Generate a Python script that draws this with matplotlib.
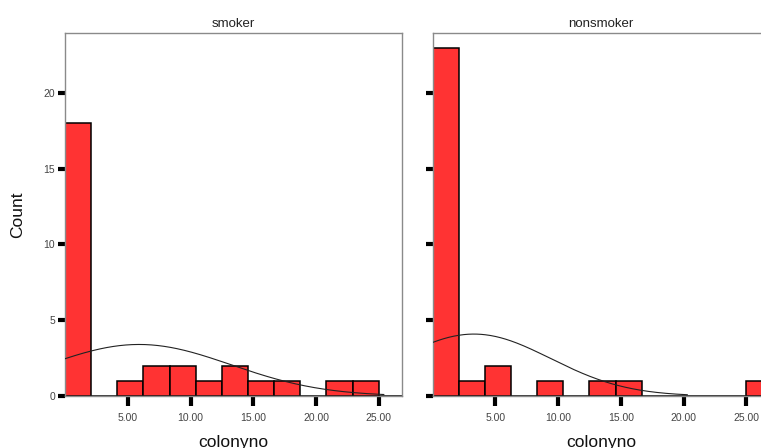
import numpy as np
import matplotlib
matplotlib.use("Agg")
import matplotlib.pyplot as plt

plt.rcParams['font.family'] = ['Liberation Sans', 'DejaVu Sans']

panels = ["smoker", "nonsmoker"]
bin_edges = list(np.linspace(0, 27.0833, 14))  # 13 bins of width 25/12
smoker_counts = [18, 0, 1, 2, 2, 1, 2, 1, 1, 0, 1, 1, 0]
nonsmoker_counts = [23, 1, 2, 0, 1, 0, 1, 1, 0, 0, 0, 0, 1]
# normal curve parameters (mean, sd, n) and drawn range
smoker_norm = (5.9, 7.33, 30)
nonsmoker_norm = (3.3, 6.1, 30)
smoker_curve_range = (0, 25.4)
nonsmoker_curve_range = (0, 20.3)
xticks = [5, 10, 15, 20, 25]
xtick_labels = ["5.00", "10.00", "15.00", "20.00", "25.00"]
yticks = [0, 5, 10, 15, 20]

W, H = 761, 448
fig = plt.figure(figsize=(W / 100, H / 100), dpi=100)

ax_w = 337 / W
ax_b = (H - 396) / H
ax_h = 363 / H
axes = [fig.add_axes([65 / W, ax_b, ax_w, ax_h]),
        fig.add_axes([432.5 / W, ax_b, ax_w, ax_h])]

data = [(smoker_counts, smoker_norm, smoker_curve_range),
        (nonsmoker_counts, nonsmoker_norm, nonsmoker_curve_range)]

for i, (ax, title, (counts, norm, crange)) in enumerate(zip(axes, panels, data)):
    edges = np.array(bin_edges)
    widths = np.diff(edges)
    ax.bar(edges[:-1], counts, width=widths, align='edge', color='#ff3333',
           edgecolor='black', linewidth=1.1, zorder=2)
    mu, sd, n = norm
    bw = widths[0]
    xs = np.linspace(crange[0], crange[1], 300)
    ys = n * bw / (sd * np.sqrt(2 * np.pi)) * np.exp(-(xs - mu) ** 2 / (2 * sd ** 2))
    ax.plot(xs, ys, color='#222222', linewidth=0.8, zorder=3)
    ax.set_xlim(0, 26.85)
    ax.set_ylim(0, 23.96)
    ax.set_xticks(xticks)
    ax.set_xticklabels(xtick_labels)
    ax.set_yticks(yticks)
    if i == 1:
        ax.set_yticklabels([])
    for s in ax.spines.values():
        s.set_color('#8a8a8a')
        s.set_linewidth(1.0)
    ax.tick_params(axis='x', direction='out', length=7, width=3, color='black',
                   labelsize=7.5, labelcolor='#444444', pad=5)
    ax.tick_params(axis='y', direction='out', length=5, width=3, color='black',
                   labelsize=7.5, labelcolor='#444444', pad=2)
    ax.set_title(title, fontsize=9.5, color='#222222', pad=4)
    ax.set_xlabel("colonyno", fontsize=12.5, color='#111111', labelpad=9)

axes[0].set_ylabel("Count", fontsize=12.5, color='#111111', labelpad=13)

fig.savefig("out.png", dpi=100)
